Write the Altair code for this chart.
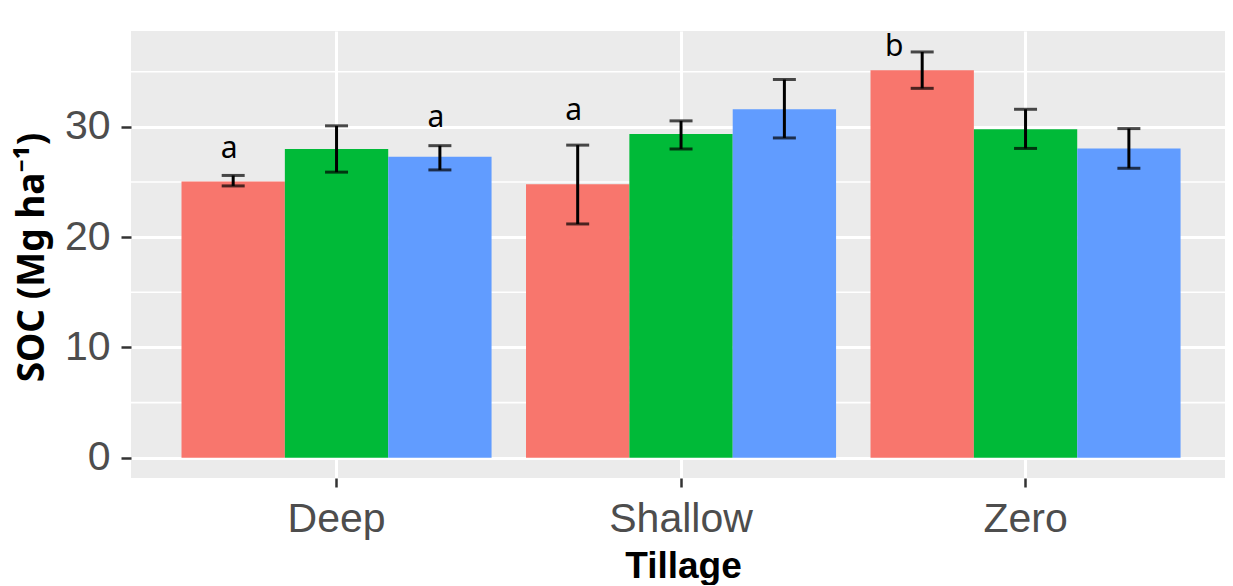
import altair as alt
import pandas as pd

# ---- data ----
tillage = ["Deep", "Shallow", "Zero"]
treatments = ["T1", "T2", "T3"]
soc = [[25.05, 28.0, 27.3], [24.8, 29.35, 31.6], [35.15, 29.8, 28.05]]
err_lo = [[24.65, 25.9, 26.1], [21.2, 28.0, 29.0], [33.5, 28.05, 26.25]]
err_hi = [[25.6, 30.1, 28.3], [28.35, 30.55, 34.3], [36.8, 31.6, 29.85]]
letters = [["a", "", "a"], ["a", "", ""], ["b", "", ""]]
letter_y = [[27.2, None, 30.0], [30.6, None, None], [36.45, None, None]]
colors = ["#F8766D", "#00BA38", "#619CFF"]
y_ticks = [0, 10, 20, 30]
y_minor = [5, 15, 25, 35]

rows = []
for i, t in enumerate(tillage):
    for j, g in enumerate(treatments):
        rows.append({"Tillage": t, "Treatment": g, "SOC": soc[i][j],
                     "lo": err_lo[i][j], "hi": err_hi[i][j],
                     "letter": letters[i][j], "ly": letter_y[i][j]})
df = pd.DataFrame(rows)
minor_df = pd.DataFrame({"v": y_minor})

yscale = alt.Scale(domain=[-1.84, 38.7], nice=False, zero=False)
yaxis = alt.Axis(values=y_ticks, grid=True, gridColor="white", gridWidth=2.8,
                 tickColor="#333333", tickSize=10, tickWidth=2.5,
                 labelFont="Liberation Sans", labelFontSize=41, labelColor="#4D4D4D",
                 labelPadding=11, domain=False,
                 title="SOC (Mg ha⁻¹)", titleFont="Noto Sans", titleFontWeight="bold",
                 titleFontSize=37, titleColor="black", titleAngle=270,
                 titleBaseline="alphabetic", titleAlign="center", titleX=-88, titleY=226)
xaxis = alt.Axis(labelAngle=0, grid=True, gridColor="white", gridWidth=3, bandPosition=0.5,
                 tickColor="#333333", tickSize=9, tickWidth=2.5, domain=False,
                 labelFont="Liberation Sans", labelFontSize=41, labelColor="#4D4D4D",
                 labelPadding=12,
                 title="Tillage", titleFont="Liberation Sans", titleFontWeight="bold",
                 titleFontSize=37, titleColor="black", titleBaseline="alphabetic",
                 titleAlign="center", titleX=552, titleY=99)

X = alt.X("Tillage:N", sort=tillage,
          scale=alt.Scale(paddingInner=0.1, paddingOuter=0.1378, align=0.532), axis=xaxis)
XO = alt.XOffset("Treatment:N", sort=treatments, scale=alt.Scale(paddingInner=0, paddingOuter=0))

minor = alt.Chart(minor_df).mark_rule(color="white", strokeWidth=1.6).encode(
    y=alt.Y("v:Q", scale=yscale, axis=yaxis)
)

base = alt.Chart(df)
bars = base.mark_bar().encode(
    x=X, xOffset=XO,
    y=alt.Y("SOC:Q", scale=yscale, axis=yaxis),
    y2=alt.datum(0),
    color=alt.Color("Treatment:N", sort=treatments,
                    scale=alt.Scale(domain=treatments, range=colors), legend=None),
)
ebar = base.mark_rule(color="black", strokeWidth=3).encode(
    x=X, xOffset=XO,
    y=alt.Y("lo:Q", scale=yscale, axis=yaxis), y2="hi:Q",
)
cap_lo = base.mark_tick(color="black", size=23, thickness=3).encode(
    x=X, xOffset=XO, y=alt.Y("lo:Q", scale=yscale, axis=yaxis))
cap_hi = base.mark_tick(color="black", size=23, thickness=3).encode(
    x=X, xOffset=XO, y=alt.Y("hi:Q", scale=yscale, axis=yaxis))

txt_a = base.transform_filter("datum.letter == 'a'").mark_text(
    font="Noto Sans", fontSize=30, color="black", baseline="alphabetic", dx=-4
).encode(x=X, xOffset=XO, y=alt.Y("ly:Q", scale=yscale, axis=yaxis), text="letter:N")
txt_b = base.transform_filter("datum.letter == 'b'").mark_text(
    font="Noto Sans", fontSize=30, color="black", baseline="alphabetic", dx=-28
).encode(x=X, xOffset=XO, y=alt.Y("ly:Q", scale=yscale, axis=yaxis), text="letter:N")

chart = alt.layer(minor, bars, ebar, cap_lo, cap_hi, txt_a, txt_b).properties(
    width=1094, height=447,
    autosize=alt.AutoSizeParams(type="none"),
    padding={"left": 123, "top": 23, "right": 0, "bottom": 107},
    background="white",
).configure_view(fill="#EBEBEB", strokeWidth=0)

chart.save("out.html", embed_options={"renderer": "svg", "actions": False})
